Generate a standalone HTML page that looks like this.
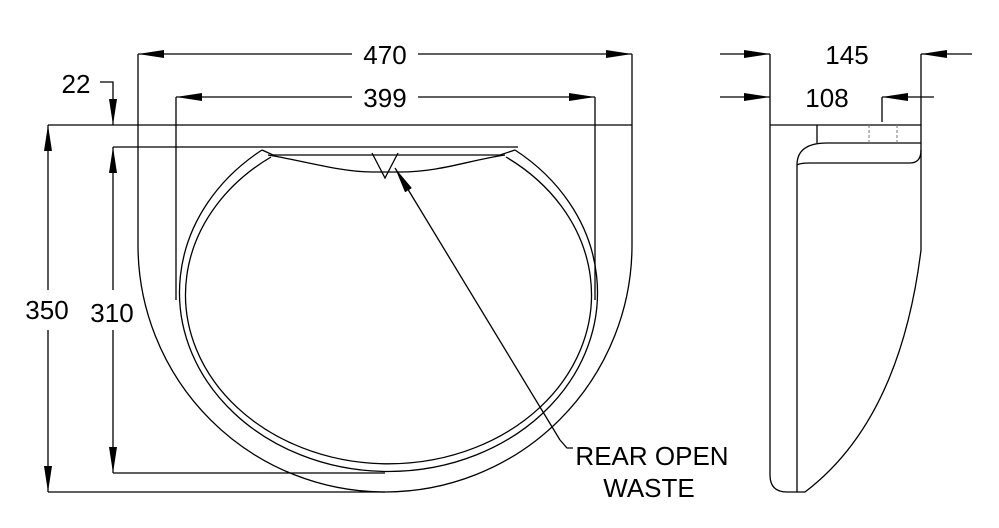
<!DOCTYPE html>
<html><head><style>body{margin:0;background:#fff}svg{display:block}</style></head><body>
<svg width="999" height="528" viewBox="0 0 999 528" xmlns="http://www.w3.org/2000/svg" font-family="Liberation Sans, sans-serif">
<defs>
<marker id="a" viewBox="0 0 10 10" refX="10" refY="5" markerWidth="26" markerHeight="8" markerUnits="userSpaceOnUse" orient="auto-start-reverse" preserveAspectRatio="none"><path d="M0,0L10,5L0,10z" fill="#000"/></marker>
</defs>
<g fill="none" stroke="#000" stroke-width="1.3">
<path d="M48,125H632"/>
<path d="M138,125V245A247,247 0 0 0 632,245V125"/>
<path d="M113,147H518"/>
<path d="M262,150A209,179 0 1 0 515,150"/>
<path d="M271,157A203,169 0 1 0 506,157" />
<path d="M262,150L273,155H500L515,150"/>
<path d="M268,155C300,160 340,172 372,172C385,172 392,172 400,172C440,172 470,160 505,155"/>
<path d="M372,153L385,178L398,153"/>
<path d="M138,125V54"/><path d="M632,125V54"/>
<path d="M138,54H352" marker-start="url(#a)"/><path d="M418,54H632" marker-end="url(#a)"/>
<path d="M176,300V97"/><path d="M595,300V97"/>
<path d="M176,97H352" marker-start="url(#a)"/><path d="M418,97H595" marker-end="url(#a)"/>
<path d="M48,125V290" marker-start="url(#a)"/><path d="M48,330V492" marker-end="url(#a)"/>
<path d="M48,492H385"/>
<path d="M113,147V290" marker-start="url(#a)"/><path d="M113,330V473" marker-end="url(#a)"/>
<path d="M113,473H385"/>
<path d="M100,82H113V125" marker-end="url(#a)"/>
<path d="M560,440L395,168" marker-end="url(#a)"/>
<path d="M560,440L567,448H573"/>
<path d="M770,54V475Q770,492 787,492H797V165Q797,143 827,143H921"/>
<path d="M770,125H921V250Q900,420 805,492H797"/>
<path d="M817,125V143"/>
<path d="M797,165Q800,163 810,163H910Q921,163 921,150"/>
<path d="M921,125V54"/>
<path d="M720,54H770" marker-end="url(#a)"/><path d="M972,54H921" marker-end="url(#a)"/>
<path d="M720,97H770" marker-end="url(#a)"/>
<path d="M882,122V97"/><path d="M934,97H882" marker-end="url(#a)"/>
</g>
<g stroke="#777" stroke-width="1" stroke-dasharray="3,2"><path d="M869,125V143M897,125V143"/></g>
<g font-size="26" fill="#000">
<text x="385" y="64" text-anchor="middle">470</text>
<text x="385" y="107" text-anchor="middle">399</text>
<text x="76" y="93" text-anchor="middle">22</text>
<text x="47" y="319" text-anchor="middle">350</text>
<text x="112" y="322" text-anchor="middle">310</text>
<text x="847" y="64" text-anchor="middle">145</text>
<text x="827" y="107" text-anchor="middle">108</text>
<text x="652" y="465" text-anchor="middle">REAR OPEN</text>
<text x="649" y="497" text-anchor="middle">WASTE</text>
</g>
</svg>
</body></html>
